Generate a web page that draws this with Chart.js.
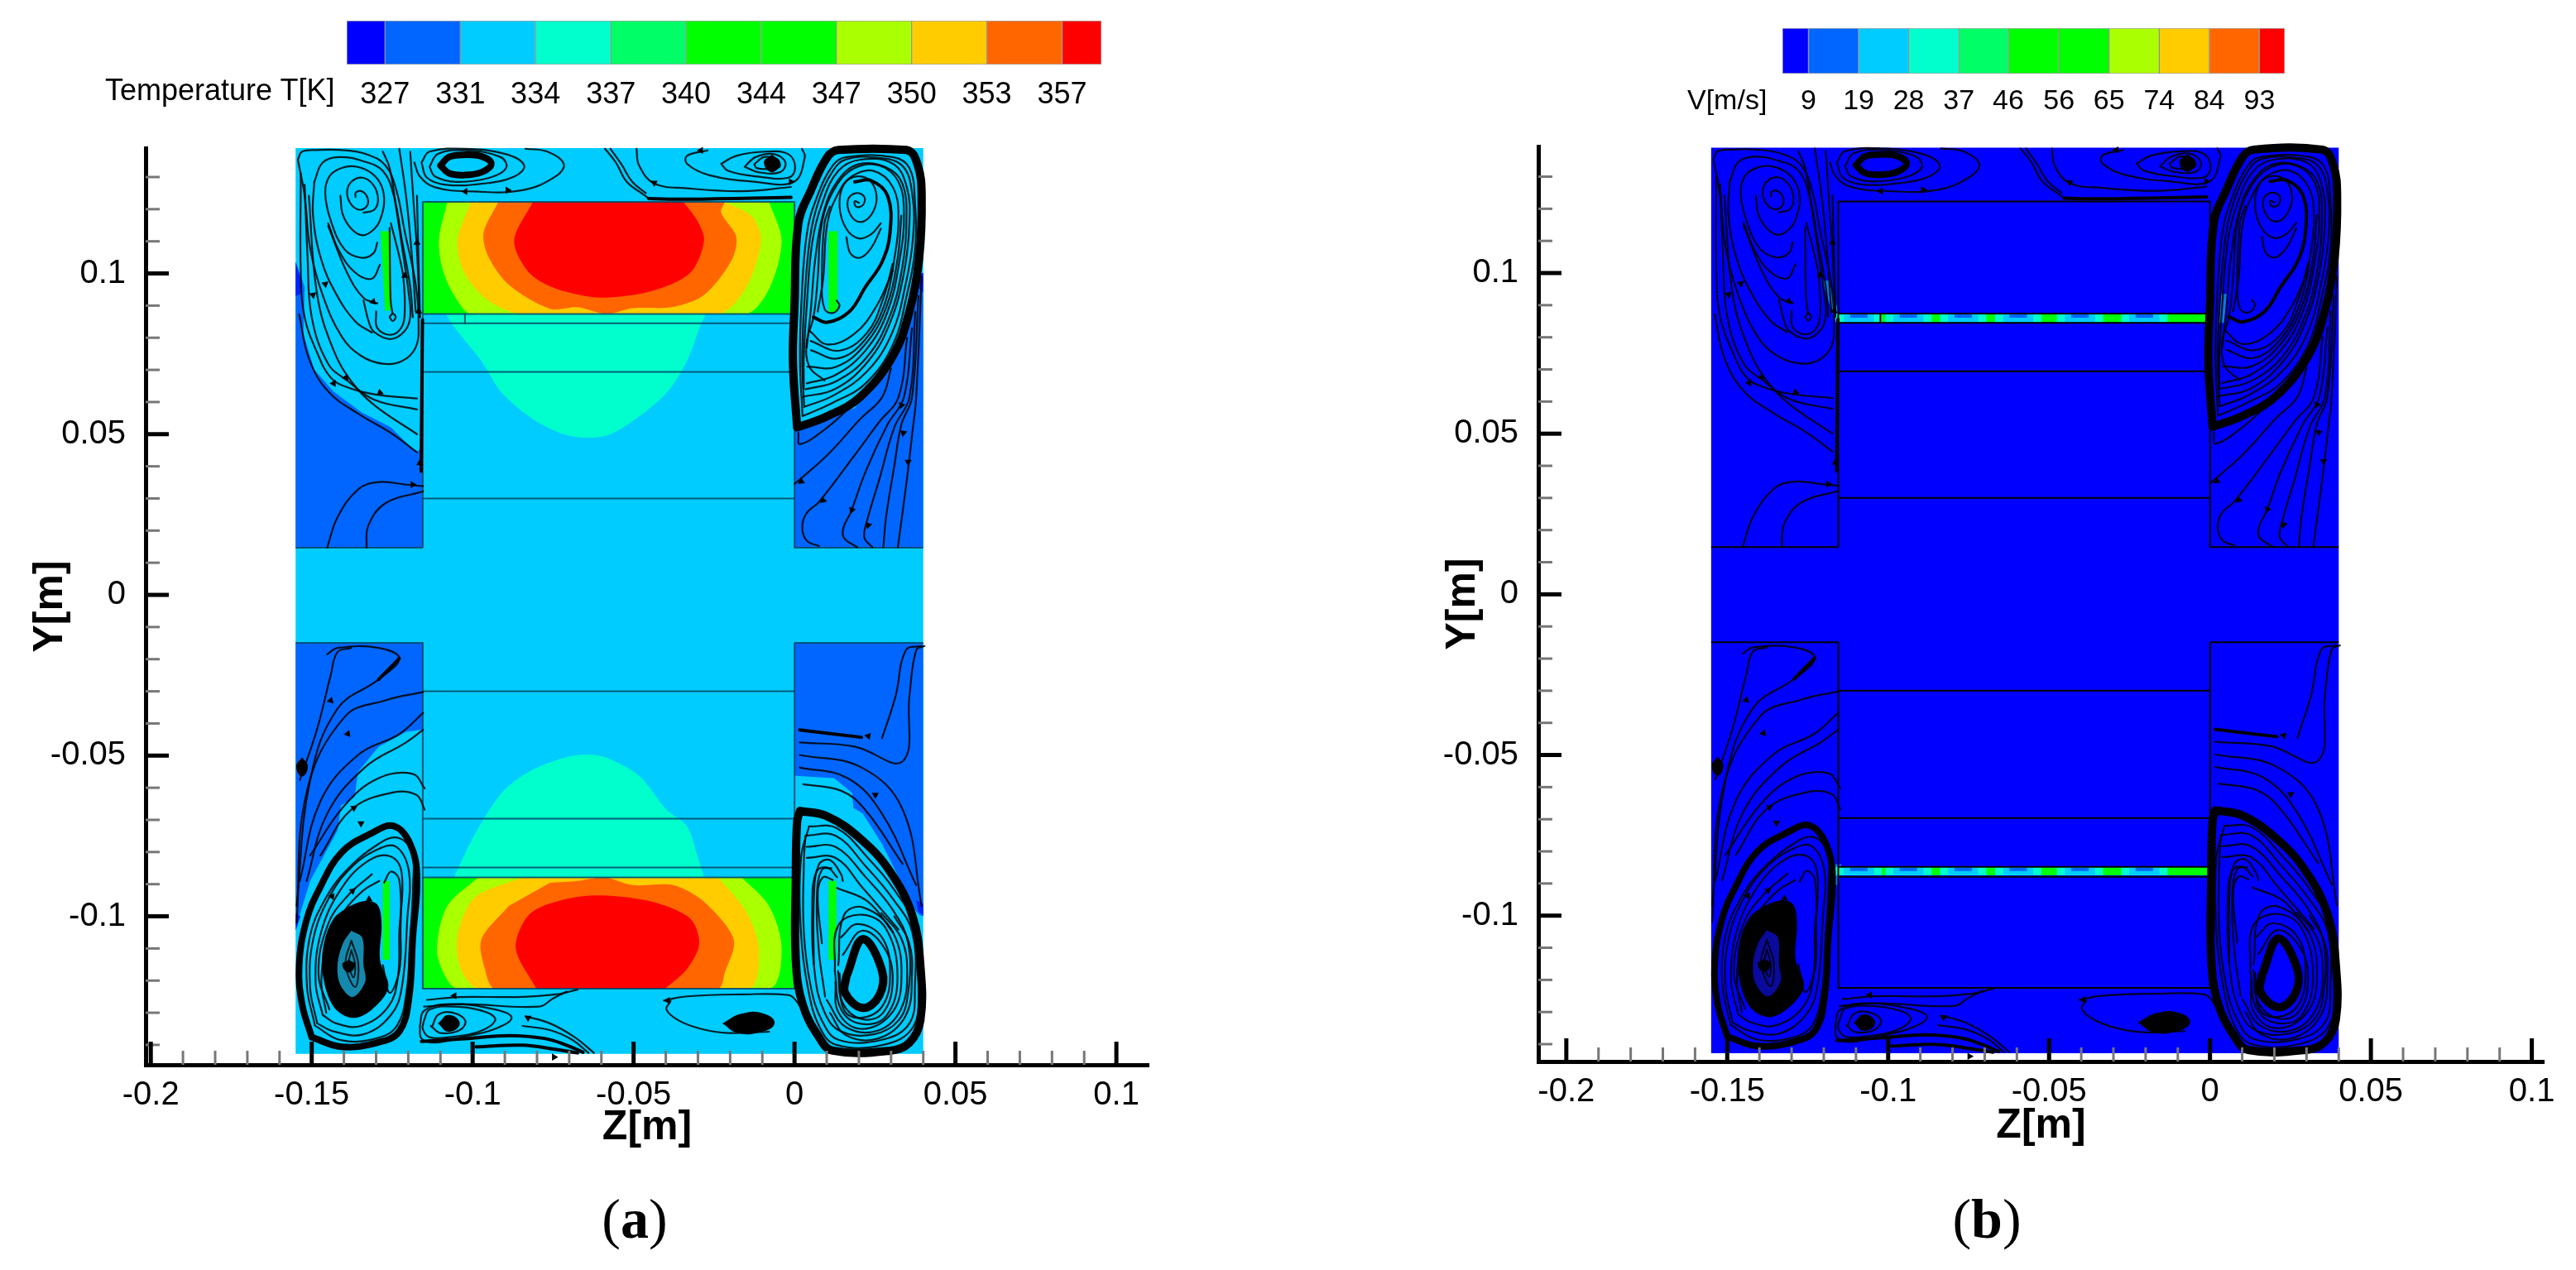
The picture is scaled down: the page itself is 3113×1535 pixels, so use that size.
<!DOCTYPE html>
<html>
<head>
<meta charset="utf-8">
<title>Temperature and velocity fields</title>
<script src="https://cdn.jsdelivr.net/npm/chart.js@4"></script>
<style>
  html, body { margin: 0; background: #fff; width: 3113px; height: 1535px; overflow: hidden; }
  canvas { position: absolute; display: block; }
  .cap { position: absolute; transform: translate(-50%, -50%); font: 68px "Liberation Serif", serif; color: #000; }
  .bar-name { position: absolute; transform: translateY(-50%); font-family: "Liberation Sans", sans-serif; color: #000; white-space: nowrap; }
</style>
</head>
<body>
<canvas id="barA" width="1012" height="140" style="left:369px;top:5px"></canvas>
<canvas id="barB" width="707" height="140" style="left:2104px;top:14px"></canvas>
<canvas id="plotA" width="1500" height="1300" style="left:0;top:100px"></canvas>
<canvas id="plotB" width="1430" height="1300" style="left:1683px;top:98px"></canvas>
<div class="bar-name" style="left:127px;top:109px;font-size:36px">Temperature T[K]</div>
<div class="bar-name" style="left:2039px;top:120px;font-size:34px">V[m/s]</div>
<div class="cap" style="left:767px;top:1473px">(<b>a</b>)</div>
<div class="cap" style="left:2401px;top:1473px">(<b>b</b>)</div>
<script>
// --- colour bars ---
const palette = ['#0000ff', '#0066ff', '#00ccff', '#00ffcc', '#00ff66', '#00ff00', '#00ff00', '#aaff00', '#ffcc00', '#ff6600', '#ff0000'];
const tempLevels = [327.4, 330.66, 333.91, 337.17, 340.42, 343.68, 346.93, 350.19, 353.44, 356.7];
const tempEnds = [325.74, 358.4];
const speedLevels = [9.3, 18.6, 27.9, 37.2, 46.4, 55.8, 65.1, 74.4, 83.7, 93.0];
const speedEnds = [4.46, 97.7];

// --- axis ticks ---
const zMajor = [-0.2, -0.15, -0.1, -0.05, 0, 0.05, 0.1];
const yMajor = [-0.1, -0.05, 0, 0.05, 0.1];
const zMinor = [-0.19, -0.18, -0.17, -0.16, -0.14, -0.13, -0.12, -0.11, -0.09, -0.08, -0.07, -0.06, -0.04, -0.03, -0.02, -0.01, 0.01, 0.02, 0.03, 0.04, 0.06, 0.07, 0.08, 0.09];
const yMinor = [-0.14, -0.13, -0.12, -0.11, -0.09, -0.08, -0.07, -0.06, -0.04, -0.03, -0.02, -0.01, 0.01, 0.02, 0.03, 0.04, 0.06, 0.07, 0.08, 0.09, 0.11, 0.12, 0.13];

// --- geometry (z, y in metres) ---
const domainRect = [[-0.155, 0.139], [0.04, 0.139], [0.04, -0.1428], [-0.155, -0.1428]];
const frameLines = [
  [[-0.1155, 0.0147], [-0.1155, 0.1223], [0, 0.1223], [0, 0.0147]],
  [[-0.155, 0.0147], [-0.1155, 0.0147]], [[0, 0.0147], [0.04, 0.0147]],
  [[-0.1155, -0.0149], [-0.1155, -0.1225], [0, -0.1225], [0, -0.0149]],
  [[-0.155, -0.0149], [-0.1155, -0.0149]], [[0, -0.0149], [0.04, -0.0149]],
  [[-0.1155, 0.0874], [0, 0.0874]], [[-0.1155, 0.0845], [0, 0.0845]], [[-0.1155, 0.0694], [0, 0.0694]], [[-0.1155, 0.03], [0, 0.03]],
  [[-0.1024, 0.0874], [-0.1024, 0.0845]],
  [[-0.1155, -0.03], [0, -0.03]], [[-0.1155, -0.0696], [0, -0.0696]], [[-0.1155, -0.0848], [0, -0.0848]], [[-0.1155, -0.0879], [0, -0.0879]]
];
const fins = [
  [[-0.1286, 0.1131], [-0.1256, 0.1131], [-0.1256, 0.0884], [-0.1272, 0.0884]],
  [[0.0106, 0.1131], [0.0134, 0.1131], [0.0134, 0.088], [0.0106, 0.088]],
  [[-0.1279, -0.089], [-0.1258, -0.089], [-0.1258, -0.1135], [-0.1279, -0.1135]],
  [[0.0106, -0.089], [0.013, -0.089], [0.013, -0.1135], [0.0106, -0.1135]]
];

// --- temperature contours ---
const coldZones = [
  [[-0.155, 0.0147], [-0.1155, 0.0147], [-0.1155, 0.0469], [-0.1172, 0.0444], [-0.1194, 0.0461], [-0.1254, 0.0521], [-0.1347, 0.0569], [-0.1433, 0.0633], [-0.1492, 0.0701], [-0.1526, 0.0813], [-0.1522, 0.0959], [-0.155, 0.1036]],
  [[0, 0.0147], [0.04, 0.0147], [0.04, 0.1001], [0.0391, 0.1001], [0.0357, 0.0899], [0.0306, 0.0744], [0.0255, 0.0658], [0.0187, 0.0581], [0.0102, 0.0556], [0, 0.0512]],
  [[-0.155, -0.0149], [-0.1155, -0.0149], [-0.1155, -0.0419], [-0.1207, -0.0426], [-0.1292, -0.0472], [-0.1356, -0.055], [-0.1367, -0.0629], [-0.1409, -0.0655], [-0.142, -0.0733], [-0.1505, -0.089], [-0.1547, -0.1027], [-0.155, -0.1027]],
  [[0, -0.0149], [0.04, -0.0149], [0.04, -0.0998], [0.0391, -0.0998], [0.0374, -0.0981], [0.0332, -0.0895], [0.0272, -0.0775], [0.0212, -0.068], [0.0183, -0.0663], [0.0179, -0.0616], [0.0123, -0.057], [0.0006, -0.0563], [0, -0.0563]]
];
const coldestSpots = [
  [[-0.155, 0.1036], [-0.1535, 0.0985], [-0.1535, 0.0936], [-0.155, 0.093]],
  [[0.04, 0.1001], [0.039, 0.1001], [0.038, 0.096], [0.04, 0.094]],
  [[-0.155, -0.099], [-0.1535, -0.1], [-0.155, -0.1045]],
  [[0.04, -0.0998], [0.0385, -0.0985], [0.0378, -0.095], [0.04, -0.096]]
];
const tealZones = [
  [[-0.1083, 0.0874], [-0.1058, 0.0834], [-0.0973, 0.0728], [-0.0909, 0.0628], [-0.0802, 0.054], [-0.0696, 0.0494], [-0.059, 0.0494], [-0.0504, 0.054], [-0.0398, 0.0628], [-0.0334, 0.0728], [-0.0292, 0.084], [-0.0275, 0.0874]],
  [[-0.1058, -0.0879], [-0.0994, -0.0746], [-0.0909, -0.0615], [-0.0824, -0.055], [-0.0696, -0.0502], [-0.06, -0.0502], [-0.0483, -0.0563], [-0.0398, -0.0668], [-0.0334, -0.072], [-0.0302, -0.0811], [-0.0281, -0.0879]]
];
const blockRects = [
  [[-0.1155, 0.1223], [0, 0.1223], [0, 0.0874], [-0.1155, 0.0874]],
  [[-0.1155, -0.0879], [0, -0.0879], [0, -0.1225], [-0.1155, -0.1225]]
];
const blockTrims = [
  [[-0.1155, 0.1223], [0, 0.1223], [0, 0.126], [-0.1155, 0.126]],
  [[-0.1155, 0.0874], [0, 0.0874], [0, 0.084], [-0.1155, 0.084]],
  [[-0.1155, -0.0879], [0, -0.0879], [0, -0.0845], [-0.1155, -0.0845]],
  [[-0.1155, -0.1225], [0, -0.1225], [0, -0.126], [-0.1155, -0.126]]
];
const limeZones = [
  [[-0.1079, 0.1223], [-0.1105, 0.1102], [-0.109, 0.1002], [-0.1047, 0.0915], [-0.1005, 0.0874], [-0.0153, 0.0874], [-0.0079, 0.0952], [-0.004, 0.1102], [-0.0079, 0.1223]],
  [[-0.0983, -0.0879], [-0.1079, -0.0968], [-0.1111, -0.1099], [-0.109, -0.1177], [-0.1047, -0.1225], [-0.0079, -0.1225], [-0.004, -0.1099], [-0.0079, -0.0968], [-0.0164, -0.0879]]
];
const yellowZones = [
  [[-0.1005, 0.1223], [-0.1047, 0.1102], [-0.1026, 0.1002], [-0.0951, 0.0915], [-0.0845, 0.0874], [-0.0238, 0.0874], [-0.0153, 0.0952], [-0.0104, 0.1102], [-0.0132, 0.1177], [-0.0217, 0.1223]],
  [[-0.0845, -0.0879], [-0.0994, -0.0942], [-0.1047, -0.106], [-0.1037, -0.1164], [-0.098, -0.1225], [-0.0143, -0.1225], [-0.0111, -0.1099], [-0.0153, -0.0981], [-0.0238, -0.0879]]
];
const orangeZones = [
  [[-0.092, 0.1223], [-0.0966, 0.1127], [-0.0951, 0.1052], [-0.0888, 0.0965], [-0.076, 0.089], [-0.0675, 0.0895], [-0.0583, 0.0874], [-0.0504, 0.0892], [-0.0377, 0.0896], [-0.0281, 0.0933], [-0.0196, 0.104], [-0.0181, 0.1114], [-0.0228, 0.1189], [-0.0217, 0.1223]],
  [[-0.076, -0.0896], [-0.0675, -0.089], [-0.059, -0.0879], [-0.0504, -0.0903], [-0.0377, -0.0903], [-0.0281, -0.0955], [-0.0189, -0.1072], [-0.0217, -0.1177], [-0.0238, -0.1225], [-0.093, -0.1225], [-0.0962, -0.1164], [-0.0973, -0.1072], [-0.0888, -0.0968]]
];
const redZones = [
  [[-0.0813, 0.1223], [-0.0871, 0.1102], [-0.0824, 0.1002], [-0.0739, 0.0952], [-0.06, 0.0925], [-0.0441, 0.0946], [-0.0324, 0.1002], [-0.0281, 0.1102], [-0.0302, 0.1164], [-0.0345, 0.1223]],
  [[-0.0802, -0.1225], [-0.0866, -0.1099], [-0.0824, -0.0994], [-0.0717, -0.0948], [-0.06, -0.0935], [-0.0441, -0.0955], [-0.0324, -0.1007], [-0.0296, -0.1085], [-0.0334, -0.1164], [-0.0402, -0.1225]]
];

// --- velocity jet bands ---
const bandMids = [0.086, -0.0862];
const bandBlueRows = [0.0866, -0.0856];
const bandTeal = [[-0.1163, -0.1019], [-0.1009, -0.0865], [-0.0839, -0.0695], [-0.0668, -0.0524], [-0.0476, -0.0332], [-0.0276, -0.0132]];
const bandCyan = [[-0.1138, -0.1044], [-0.0984, -0.089], [-0.0814, -0.072], [-0.0643, -0.0549], [-0.0451, -0.0357], [-0.0251, -0.0157]];
const bandBlue = [[-0.1118, -0.1064], [-0.0964, -0.091], [-0.0794, -0.074], [-0.0623, -0.0569], [-0.0431, -0.0377], [-0.0231, -0.0177]];
const speedStreaks = [
  [[-0.1207, 0.0977], [-0.1185, 0.0977], [-0.1145, 0.0852], [-0.1165, 0.0852]],
  [[0.0035, 0.0935], [0.0055, 0.0935], [0.0045, 0.0845], [0.0025, 0.0845]],
  [[-0.1165, -0.084], [-0.1145, -0.084], [-0.1155, -0.0905], [-0.1175, -0.0905]]
];

// --- streamlines: thin, left side and centre ---
const thinLines = [
  // top left vortex
  [[-0.1364, 0.1238], [-0.1363, 0.1252], [-0.1343, 0.1255], [-0.1326, 0.1233], [-0.133, 0.1208], [-0.1356, 0.1199], [-0.1381, 0.122], [-0.139, 0.1255], [-0.1377, 0.1285], [-0.1343, 0.1298], [-0.1309, 0.1276], [-0.1294, 0.1233], [-0.1305, 0.1199], [-0.1339, 0.1189]],
  [[-0.1411, 0.1242], [-0.1403, 0.1182], [-0.1373, 0.1135], [-0.1339, 0.1119], [-0.1305, 0.1139], [-0.1288, 0.1165], [-0.1275, 0.122], [-0.1283, 0.1272], [-0.1313, 0.1311], [-0.136, 0.1332], [-0.1407, 0.1328], [-0.1445, 0.1302], [-0.1458, 0.125], [-0.1441, 0.1165], [-0.1398, 0.1075], [-0.1347, 0.1049], [-0.1309, 0.1062], [-0.1296, 0.1096]],
  [[-0.1449, 0.1156], [-0.1415, 0.107], [-0.1364, 0.1002], [-0.1313, 0.0984], [-0.1288, 0.1027]],
  [[-0.1449, 0.1148], [-0.139, 0.1002], [-0.1339, 0.0924], [-0.1296, 0.0907]],
  [[-0.1339, 0.0916], [-0.1322, 0.0847], [-0.1305, 0.0817], [-0.1254, 0.0796], [-0.1211, 0.0821], [-0.1194, 0.0864], [-0.1198, 0.0933], [-0.1215, 0.1053], [-0.1237, 0.1199], [-0.1258, 0.1328], [-0.1279, 0.1379]],
  [[-0.13, 0.0882], [-0.1296, 0.083], [-0.1254, 0.0809], [-0.122, 0.0834], [-0.1211, 0.0882], [-0.1215, 0.0984], [-0.1228, 0.1053], [-0.1254, 0.1156]],
  [[-0.1258, 0.0864], [-0.1249, 0.0875], [-0.1239, 0.0864], [-0.1249, 0.0852], [-0.1258, 0.0864]],
  [[-0.1258, 0.1142], [-0.1255, 0.0919], [-0.1249, 0.0875]],
  [[-0.1543, 0.1354], [-0.153, 0.1379], [-0.1483, 0.1384], [-0.1407, 0.1384], [-0.133, 0.1371], [-0.1271, 0.1336], [-0.1237, 0.1259], [-0.1211, 0.113], [-0.1177, 0.0967], [-0.1168, 0.0847], [-0.1177, 0.077], [-0.122, 0.0727], [-0.1279, 0.0719], [-0.1347, 0.0744], [-0.1407, 0.0804], [-0.1466, 0.0933], [-0.1505, 0.1079], [-0.1522, 0.1242], [-0.1543, 0.1354]],
  [[-0.1492, 0.1285], [-0.1466, 0.1345], [-0.1415, 0.1362], [-0.1339, 0.1349], [-0.1279, 0.1319], [-0.1245, 0.1242], [-0.122, 0.1105], [-0.1194, 0.0959], [-0.1186, 0.0864]],
  [[-0.1492, 0.1285], [-0.1496, 0.1182], [-0.1471, 0.1045], [-0.1424, 0.0936], [-0.1364, 0.085], [-0.1313, 0.0816]],
  [[-0.1534, 0.1311], [-0.1534, 0.1002], [-0.1522, 0.0864], [-0.1483, 0.0753], [-0.1441, 0.0676], [-0.139, 0.0646], [-0.1305, 0.0624], [-0.1173, 0.0611]],
  [[-0.1522, 0.1276], [-0.1513, 0.1053], [-0.15, 0.0864], [-0.1449, 0.0719], [-0.139, 0.0667], [-0.1305, 0.0607], [-0.1173, 0.0577]],
  [[-0.1509, 0.1242], [-0.1483, 0.0933], [-0.1432, 0.0761], [-0.1373, 0.0659], [-0.1305, 0.059], [-0.1173, 0.05]],
  [[-0.1539, 0.0873], [-0.1509, 0.0736], [-0.1449, 0.0633], [-0.1356, 0.0564], [-0.1254, 0.0504], [-0.1173, 0.0444]],
  [[-0.1173, 0.1242], [-0.1164, 0.0864]],
  [[-0.1194, 0.1379], [-0.1185, 0.1242], [-0.1173, 0.107], [-0.1164, 0.0864]],
  [[-0.1228, 0.1388], [-0.1207, 0.1242], [-0.119, 0.107], [-0.1177, 0.0882]],
  // chamber under the top left vortex
  [[-0.1452, 0.0147], [-0.142, 0.0241], [-0.1356, 0.0328], [-0.1292, 0.0351], [-0.1207, 0.0343], [-0.1154, 0.0338]],
  [[-0.133, 0.0147], [-0.1324, 0.0216], [-0.1271, 0.0285], [-0.1154, 0.0322]],
  // top centre
  [[-0.1134, 0.1332], [-0.1108, 0.1372], [-0.1023, 0.1383], [-0.0913, 0.1362], [-0.0896, 0.1328], [-0.0947, 0.1298], [-0.1049, 0.1285], [-0.1117, 0.1302], [-0.1134, 0.1332]],
  [[-0.1159, 0.1345], [-0.1134, 0.1379], [-0.1023, 0.1388], [-0.0896, 0.1371], [-0.084, 0.1336], [-0.087, 0.1302], [-0.0964, 0.128], [-0.1083, 0.1276], [-0.1142, 0.1298], [-0.1159, 0.1345]],
  [[-0.0836, 0.1388], [-0.0768, 0.1379], [-0.0717, 0.1341], [-0.0742, 0.1302], [-0.0845, 0.1259], [-0.0998, 0.1255], [-0.1117, 0.1268], [-0.1164, 0.1302], [-0.1181, 0.1345]],
  [[-0.0589, 0.1388], [-0.0555, 0.1345], [-0.0521, 0.1285], [-0.047, 0.1246], [-0.0453, 0.1233]],
  [[-0.0572, 0.1388], [-0.0538, 0.134], [-0.0504, 0.1285], [-0.0462, 0.125]],
  [[-0.0491, 0.1388], [-0.0483, 0.1336], [-0.0436, 0.128], [-0.0334, 0.1265], [-0.0164, 0.1256], [-0.0011, 0.1269]],
  [[-0.027, 0.1383], [-0.0334, 0.1366], [-0.0334, 0.1341], [-0.0266, 0.1306], [-0.0121, 0.1285], [-0.0002, 0.1285], [0.0032, 0.1362], [0.0023, 0.1388]],
  [[-0.0228, 0.1341], [-0.0181, 0.1366], [-0.0087, 0.1379], [-0.0019, 0.1371], [0.0002, 0.1328], [-0.0019, 0.1298], [-0.0121, 0.1302], [-0.0206, 0.1319], [-0.0228, 0.1341]],
  [[-0.0155, 0.1332], [-0.0121, 0.1362], [-0.0062, 0.1371], [-0.0028, 0.1345], [-0.0045, 0.1315], [-0.0113, 0.1315], [-0.0155, 0.1332]],
  [[-0.0125, 0.134], [-0.0095, 0.1362], [-0.0055, 0.1355], [-0.0046, 0.1332], [-0.008, 0.1325], [-0.0118, 0.1328], [-0.0125, 0.134]],
  // bottom centre
  [[-0.1125, -0.1341], [-0.1108, -0.1307], [-0.1066, -0.1299], [-0.1023, -0.1324], [-0.104, -0.1354], [-0.11, -0.1363], [-0.113, -0.1341]],
  [[-0.1151, -0.1324], [-0.1134, -0.129], [-0.1057, -0.1281], [-0.0955, -0.1299], [-0.093, -0.1324], [-0.0981, -0.1359], [-0.1074, -0.1376], [-0.1134, -0.1376], [-0.1155, -0.135], [-0.1151, -0.1324]],
  [[-0.1164, -0.1341], [-0.1151, -0.1294], [-0.1074, -0.1273], [-0.093, -0.129], [-0.0879, -0.1316], [-0.093, -0.135], [-0.1032, -0.1376], [-0.1117, -0.1393], [-0.1159, -0.138], [-0.1164, -0.1341]],
  [[-0.1142, -0.126], [-0.104, -0.1251], [-0.0862, -0.1251], [-0.0742, -0.1243], [-0.0674, -0.1228]],
  [[-0.1151, -0.1281], [-0.1032, -0.1273], [-0.0794, -0.1281], [-0.0751, -0.1256], [-0.0708, -0.1234]],
  [[-0.0836, -0.1311], [-0.076, -0.1333], [-0.0683, -0.1376], [-0.0623, -0.1425]],
  [[-0.0845, -0.1341], [-0.076, -0.1354], [-0.0691, -0.1384], [-0.064, -0.1425]],
  [[-0.0406, -0.1262], [-0.0334, -0.1249], [-0.0164, -0.1243], [-0.0019, -0.1245], [0.0006, -0.1264], [0.0025, -0.1295]],
  [[-0.0385, -0.1264], [-0.0398, -0.129], [-0.036, -0.1324], [-0.0291, -0.135], [-0.0206, -0.1363], [-0.0079, -0.1359]],
  // lower left vortex
  [[-0.1483, -0.1333], [-0.1505, -0.1221], [-0.1496, -0.1075], [-0.1449, -0.0947], [-0.1381, -0.0852], [-0.1296, -0.0792], [-0.1237, -0.0784], [-0.1198, -0.0861], [-0.1203, -0.1007], [-0.122, -0.1221], [-0.1254, -0.1307], [-0.1339, -0.1367], [-0.1432, -0.1358], [-0.1483, -0.1333]],
  [[-0.1466, -0.1307], [-0.1488, -0.1204], [-0.1471, -0.105], [-0.1407, -0.0912], [-0.1322, -0.0826], [-0.1254, -0.0814], [-0.122, -0.0869], [-0.1228, -0.105], [-0.1232, -0.1187], [-0.1262, -0.1281], [-0.1347, -0.1341], [-0.1424, -0.1333], [-0.1466, -0.1307]],
  [[-0.149, -0.134], [-0.1515, -0.1215], [-0.1505, -0.106], [-0.146, -0.095], [-0.1395, -0.086], [-0.13, -0.078], [-0.1235, -0.0755], [-0.119, -0.08], [-0.1185, -0.09], [-0.1195, -0.108], [-0.1205, -0.123], [-0.1235, -0.134], [-0.13, -0.138], [-0.141, -0.1385], [-0.149, -0.134]],
  [[-0.1455, -0.13], [-0.147, -0.12], [-0.145, -0.108], [-0.14, -0.0985], [-0.134, -0.092], [-0.129, -0.089]],
  [[-0.1275, -0.0895], [-0.1254, -0.0861], [-0.1228, -0.0887], [-0.1224, -0.105], [-0.1228, -0.117], [-0.1258, -0.1238], [-0.1279, -0.1152]],
  [[-0.1445, -0.129], [-0.1479, -0.1178], [-0.1449, -0.1024], [-0.139, -0.0938], [-0.1313, -0.0869]],
  // chamber above the lower left vortex
  [[-0.1505, -0.0811], [-0.1398, -0.0655], [-0.1292, -0.057], [-0.1186, -0.0557], [-0.1149, -0.0602]],
  [[-0.1473, -0.0811], [-0.1377, -0.0668], [-0.1249, -0.0615], [-0.1175, -0.0622], [-0.1149, -0.0668]],
  [[-0.1537, -0.089], [-0.1473, -0.0642], [-0.1356, -0.0498], [-0.1228, -0.0433], [-0.1154, -0.0367]],
  [[-0.1516, -0.089], [-0.1452, -0.0681], [-0.1335, -0.0537], [-0.1207, -0.0459], [-0.1154, -0.042]],
  [[-0.1547, -0.0968], [-0.1505, -0.0576], [-0.142, -0.0354], [-0.1292, -0.0263], [-0.1228, -0.0198], [-0.1292, -0.0165], [-0.142, -0.0165], [-0.1452, -0.0185]],
  [[-0.1537, -0.0576], [-0.1484, -0.042], [-0.1441, -0.025], [-0.142, -0.0178], [-0.1377, -0.0165]],
  [[-0.1547, -0.102], [-0.1516, -0.0615], [-0.1398, -0.038], [-0.1271, -0.0328], [-0.1154, -0.0302]]
];

// --- streamlines: thin, right side (read against the crop, shifted by rightShift) ---
const rightShift = 0.001;
const thinLinesRight = [
  // chamber under the top right vortex
  [[0.0002, 0.0504], [0.0007, 0.0469], [0.0092, 0.0521], [0.0194, 0.0615]],
  [[-0.001, 0.0345], [0.0092, 0.0435], [0.0194, 0.0547], [0.0262, 0.0615], [0.029, 0.0705]],
  [[0.0066, 0.0152], [0.0028, 0.0169], [0.0014, 0.0212], [0.0028, 0.0255], [0.0066, 0.0289], [0.0177, 0.0435], [0.0253, 0.0538], [0.0313, 0.0615], [0.034, 0.08]],
  [[0.0185, 0.0148], [0.0143, 0.0178], [0.0143, 0.0212], [0.0164, 0.0255], [0.0211, 0.0384], [0.0279, 0.053], [0.033, 0.0615], [0.0355, 0.083]],
  [[0.0232, 0.0148], [0.0207, 0.0178], [0.0215, 0.0229], [0.0253, 0.0358], [0.03, 0.0521], [0.0347, 0.0615], [0.0365, 0.088]],
  [[0.0266, 0.0148], [0.0275, 0.0246], [0.03, 0.0401], [0.0322, 0.053], [0.0355, 0.0615], [0.0375, 0.093]],
  [[0.0311, 0.0148], [0.0339, 0.0358], [0.0356, 0.0504], [0.0368, 0.0615], [0.0385, 0.099]],
  // top right vortex, inner turns
  [[0.0015, 0.0556], [0.0109, 0.0598], [0.0211, 0.0658], [0.0296, 0.0779], [0.0339, 0.0933], [0.0364, 0.107], [0.0364, 0.1225], [0.0347, 0.1328], [0.0296, 0.1362], [0.0151, 0.1362], [0.0109, 0.1336], [0.0058, 0.1233], [0.0028, 0.1122], [0.0011, 0.0899], [0.0007, 0.0727], [0.0015, 0.0556]],
  [[0.002, 0.0585], [0.011, 0.062], [0.0215, 0.0695], [0.0292, 0.0812], [0.0335, 0.0965], [0.0358, 0.111], [0.0356, 0.1245], [0.0325, 0.1335], [0.0245, 0.136], [0.015, 0.1355], [0.011, 0.132], [0.0065, 0.1225], [0.0038, 0.111], [0.002, 0.09], [0.0014, 0.073], [0.002, 0.0585]],
  [[0.0015, 0.0616], [0.0117, 0.0641], [0.0219, 0.0727], [0.0287, 0.0847], [0.033, 0.1002], [0.0347, 0.1156], [0.0339, 0.1268], [0.0296, 0.1341], [0.0194, 0.1354], [0.0126, 0.1319], [0.0075, 0.1216], [0.0045, 0.1096], [0.0028, 0.0899], [0.0019, 0.0744], [0.0019, 0.0641]],
  [[0.0025, 0.064], [0.012, 0.0665], [0.0215, 0.074], [0.0285, 0.0865], [0.0325, 0.102], [0.0338, 0.117], [0.0325, 0.128], [0.0275, 0.133], [0.019, 0.134], [0.0125, 0.129], [0.008, 0.119], [0.0055, 0.105], [0.004, 0.088], [0.0028, 0.077]],
  [[0.0028, 0.0658], [0.0117, 0.0684], [0.0211, 0.0761], [0.0279, 0.0881], [0.0317, 0.1045], [0.033, 0.1182], [0.0313, 0.1285], [0.0253, 0.1336], [0.0177, 0.1328], [0.0117, 0.1268], [0.0075, 0.1156], [0.0062, 0.0984], [0.0049, 0.0864], [0.0028, 0.0787], [0.0036, 0.071], [0.0083, 0.0667]],
  [[0.003, 0.071], [0.012, 0.071], [0.021, 0.078], [0.0275, 0.0895], [0.031, 0.1045], [0.0322, 0.118]],
  [[0.0041, 0.0761], [0.0126, 0.0736], [0.0211, 0.0796], [0.0271, 0.0908], [0.03, 0.1045], [0.0313, 0.1173], [0.0296, 0.1268], [0.0236, 0.1319], [0.0168, 0.1302], [0.0126, 0.125], [0.0092, 0.1156], [0.0079, 0.0984], [0.0062, 0.0881]],
  [[0.004, 0.079], [0.013, 0.076], [0.0215, 0.0815], [0.0265, 0.092], [0.0295, 0.103]],
  [[0.0036, 0.0822], [0.0092, 0.0779], [0.0177, 0.0813], [0.0245, 0.0899], [0.0296, 0.101]],
  [[0.019, 0.122], [0.0177, 0.1225], [0.0181, 0.1208], [0.0202, 0.1212], [0.0207, 0.1238], [0.0181, 0.125], [0.0156, 0.1229], [0.0164, 0.1182], [0.0194, 0.116], [0.0228, 0.1182], [0.0245, 0.1233], [0.0228, 0.1285], [0.0185, 0.1302], [0.0143, 0.1276], [0.013, 0.1208], [0.0151, 0.1139], [0.019, 0.1109], [0.0228, 0.1122], [0.0258, 0.1156]],
  [[0.0151, 0.1113], [0.0164, 0.1062], [0.0194, 0.1049], [0.0228, 0.1079], [0.0258, 0.1139]],
  [[0.0121, 0.0916], [0.013, 0.0899], [0.0109, 0.0877], [0.0083, 0.089], [0.0075, 0.0984], [0.0083, 0.1156], [0.01, 0.1208]],
  // lower right vortex
  [[0.0126, -0.1152], [0.0143, -0.0998], [0.0202, -0.0972], [0.0296, -0.105], [0.0322, -0.1204], [0.0287, -0.1307], [0.0194, -0.135], [0.0126, -0.1298], [0.0117, -0.1204]],
  [[0.0115, -0.117], [0.0125, -0.103], [0.02, -0.0995], [0.0275, -0.104], [0.031, -0.119], [0.0275, -0.131], [0.02, -0.1335], [0.0135, -0.129], [0.0115, -0.117]],
  [[0.0134, -0.1066], [0.0185, -0.1024], [0.0262, -0.1066], [0.0287, -0.1178], [0.0262, -0.1281], [0.0194, -0.1316], [0.0143, -0.129], [0.013, -0.1178]],
  [[0.014, -0.112], [0.02, -0.1045], [0.027, -0.11], [0.0295, -0.12], [0.0265, -0.13], [0.02, -0.132], [0.014, -0.127], [0.0125, -0.117]],
  [[0.01, -0.13], [0.015, -0.137], [0.025, -0.138], [0.0335, -0.131], [0.0355, -0.118], [0.0345, -0.108], [0.03, -0.1]],
  [[0.009, -0.126], [0.015, -0.1345], [0.025, -0.1355], [0.032, -0.129], [0.034, -0.117], [0.032, -0.1065], [0.026, -0.099]],
  [[0.0035, -0.072], [0.012, -0.0725], [0.0215, -0.0815], [0.0305, -0.0925], [0.0368, -0.104], [0.0376, -0.1215], [0.0358, -0.1345], [0.0265, -0.14], [0.012, -0.14], [0.0068, -0.1345], [0.0032, -0.1225], [0.001, -0.105], [0.001, -0.082], [0.0035, -0.072]],
  [[0.0024, -0.0749], [0.0117, -0.0749], [0.0211, -0.0844], [0.0296, -0.0946], [0.0356, -0.105], [0.0364, -0.1221], [0.0347, -0.1333], [0.0262, -0.1384], [0.0126, -0.1384], [0.0075, -0.1324], [0.0041, -0.1221], [0.0019, -0.105], [0.0019, -0.0835], [0.0024, -0.0749]],
  [[0.0028, -0.0784], [0.0117, -0.0784], [0.0211, -0.0878], [0.0296, -0.0981], [0.0343, -0.1084], [0.0343, -0.1238], [0.0313, -0.1324], [0.0236, -0.1367], [0.0134, -0.1358], [0.0083, -0.1298], [0.0053, -0.1178], [0.0045, -0.0964], [0.0058, -0.0861], [0.0092, -0.0848], [0.0122, -0.0878]],
  [[0.0028, -0.0818], [0.0117, -0.0818], [0.0202, -0.0912], [0.0262, -0.0981], [0.0313, -0.1041]],
  [[0.005, -0.115], [0.005, -0.095], [0.0065, -0.084], [0.01, -0.0825], [0.0135, -0.087], [0.014, -0.089]],
  [[0.0085, -0.125], [0.0065, -0.11], [0.006, -0.093], [0.0075, -0.0855], [0.0105, -0.085]],
  [[0.0075, -0.1084], [0.0062, -0.0929], [0.0079, -0.0878], [0.0109, -0.0887]],
  [[0.0122, -0.0912], [0.0219, -0.0955], [0.0296, -0.105]],
  // chamber above the lower right vortex
  [[0.0006, -0.0459], [0.0177, -0.0472], [0.0326, -0.0518], [0.0347, -0.0315], [0.0368, -0.0172], [0.0394, -0.0159]],
  [[0.0262, -0.0446], [0.0304, -0.0315], [0.0336, -0.0172], [0.0385, -0.0159]],
  [[0.0006, -0.0498], [0.0198, -0.0537], [0.0326, -0.0668], [0.0385, -0.0968]],
  [[0.0006, -0.0537], [0.0155, -0.057], [0.0262, -0.0681], [0.0368, -0.0903]],
  [[0.0017, -0.0589], [0.0134, -0.0609], [0.0209, -0.0668], [0.0326, -0.0837]]
];

// --- streamlines: bold ---
const boldLines = [
  [[-0.1156, 0.0856], [-0.116, 0.0384]],
  [[-0.1159, -0.1389], [-0.1015, -0.138], [-0.0887, -0.1371], [-0.0777, -0.138], [-0.0708, -0.1401], [-0.0657, -0.1423]],
  [[-0.0989, -0.1406], [-0.0845, -0.1401], [-0.0743, -0.1414], [-0.0674, -0.1425]],
  [[-0.0453, 0.1233], [-0.0334, 0.1231], [-0.0011, 0.1237]],
  [[-0.1292, -0.0263], [-0.1228, -0.0198]],
  [[0.0059, 0.0864], [0.0102, 0.0848], [0.017, 0.0881], [0.0221, 0.0959], [0.0272, 0.1036], [0.0297, 0.113], [0.0289, 0.1242], [0.0238, 0.1289], [0.0187, 0.1285]],
  [[0.0016, -0.042], [0.0208, -0.0443]]
];

// --- streamlines: heavy outer turns ---
const topRightOuter = [[0.0008, 0.0521], [0.0102, 0.0556], [0.0204, 0.0616], [0.0306, 0.0744], [0.0357, 0.0882], [0.0387, 0.1045], [0.0395, 0.1242], [0.0383, 0.1336], [0.0349, 0.1384], [0.0136, 0.1384], [0.0102, 0.1362], [0.0051, 0.1259], [0.0012, 0.1156], [0, 0.0899], [-0.0005, 0.0727], [0.0008, 0.0521]];
const lowerRightOuter = [[0.0017, -0.0672], [0.0102, -0.0689], [0.0204, -0.0758], [0.0297, -0.0861], [0.0366, -0.0998], [0.0391, -0.1153], [0.0391, -0.1324], [0.0357, -0.1393], [0.0297, -0.1418], [0.0119, -0.1418], [0.0076, -0.1376], [0.0025, -0.1273], [0.0004, -0.1135], [0.0004, -0.0878], [0.0008, -0.0706], [0.0017, -0.0672]];
const lowerRightCore = [[0.0161, -0.1187], [0.0212, -0.1071], [0.0272, -0.117], [0.0263, -0.1247], [0.0212, -0.1285], [0.0157, -0.1238], [0.0161, -0.1187]];
const lowerLeftOuter = [[-0.15, -0.1376], [-0.153, -0.1273], [-0.1539, -0.1152], [-0.1517, -0.1015], [-0.1475, -0.0912], [-0.1407, -0.0801], [-0.1313, -0.0741], [-0.1245, -0.0719], [-0.1194, -0.0775], [-0.1173, -0.0878], [-0.1186, -0.1067], [-0.1198, -0.1255], [-0.1228, -0.1358], [-0.1296, -0.1393], [-0.1407, -0.1406], [-0.15, -0.1376]];
const topCentreCore = [[-0.11, 0.1336], [-0.1074, 0.1362], [-0.1028, 0.1369], [-0.0972, 0.1364], [-0.0942, 0.1341], [-0.0972, 0.1315], [-0.1028, 0.1306], [-0.1074, 0.1312], [-0.11, 0.1336]];

// --- dense cores, drawn solid ---
const lowerLeftBlob = [[-0.139, -0.0972], [-0.1339, -0.0953], [-0.1296, -0.0964], [-0.1283, -0.1024], [-0.1288, -0.1135], [-0.1262, -0.1221], [-0.1313, -0.129], [-0.1373, -0.1316], [-0.1432, -0.1281], [-0.1466, -0.1178], [-0.1462, -0.1084], [-0.1432, -0.1007], [-0.139, -0.0972]];
const lowerLeftEye = [[-0.1377, -0.1045], [-0.1343, -0.1067], [-0.1339, -0.1152], [-0.1334, -0.1204], [-0.1373, -0.1251], [-0.1411, -0.1213], [-0.142, -0.1152], [-0.1403, -0.1084], [-0.1377, -0.1045]];
const eyeRings = [
  [[-0.1377, -0.1075], [-0.1355, -0.115], [-0.1365, -0.122], [-0.1395, -0.115], [-0.1377, -0.1075]],
  [[-0.1377, -0.1105], [-0.1365, -0.115], [-0.137, -0.119], [-0.1385, -0.115], [-0.1377, -0.1105]]
];
const solidDots = [
  [[-0.1108, -0.1333], [-0.1074, -0.1307], [-0.104, -0.1333], [-0.1074, -0.1359], [-0.1108, -0.1333]],
  [[-0.0224, -0.1333], [-0.0165, -0.1303], [-0.0095, -0.1303], [-0.0062, -0.1333], [-0.0105, -0.136], [-0.0175, -0.1363], [-0.0224, -0.1333]],
  [[-0.007, 0.137], [-0.0045, 0.1345], [-0.007, 0.1315], [-0.0095, 0.1345], [-0.007, 0.137]],
  [[-0.153, -0.0505], [-0.1512, -0.0534], [-0.153, -0.0565], [-0.1548, -0.0534], [-0.153, -0.0505]],
  [[-0.1385, -0.1135], [-0.1365, -0.115], [-0.1385, -0.1175], [-0.1405, -0.115], [-0.1385, -0.1135]]
];

// --- flow arrows: z, y, heading in degrees ---
const arrowMarks = [
  [0.0021, 0.0353, 235], [0.0089, 0.0294, 225], [0.0178, 0.0264, 200], [0.0229, 0.0217, 195], [0.0353, 0.0414, 180], [0.0338, 0.0504, 190], [0.0332, 0.059, 200],
  [-0.1186, 0.0343, 90], [-0.1309, 0.0912, 135], [-0.1211, 0.0993, 0], [-0.1458, 0.0967, 170], [-0.1496, 0.0933, 170], [-0.1432, 0.0658, 150], [-0.1394, 0.0676, 140], [-0.1288, 0.0629, 110], [-0.1173, 0.1096, 0], [-0.1168, 0.0882, 0], [-0.1164, 0.041, 0],
  [-0.1369, -0.0663, 60], [-0.1347, -0.0711, 60], [-0.1373, -0.0921, 50], [-0.1437, -0.0938, 40], [-0.1322, -0.0947, 120],
  [-0.1023, 0.1255, 270], [-0.0436, 0.1282, 300], [-0.0291, 0.1383, 270], [-0.0011, 0.1285, 90], [-0.0891, 0.1259, 90],
  [-0.1057, -0.1247, 270], [-0.0828, -0.1316, 300], [-0.0747, -0.1438, 90], [-0.0394, -0.1262, 270],
  [-0.1441, -0.0329, 15], [-0.1388, -0.0432, 20], [0.0229, -0.0439, 280], [0.0251, -0.0622, 300]
];

const asPoints = pairs => pairs.map(([x, y]) => ({ x, y }));

function shape(pairs, color, tension = 0) {
  return { data: asPoints(pairs), showLine: true, fill: 'shape', backgroundColor: color, borderWidth: 0, pointRadius: 0, tension, clip: false };
}

function stroke(pairs, color, width, tension = 0.4, cap = 'round') {
  return { data: asPoints(pairs), showLine: true, fill: false, borderColor: color, borderWidth: width, borderCapStyle: cap, borderJoinStyle: 'round', pointRadius: 0, tension, clip: false };
}

// overlay shared by both panels, in paint order
function flowDatasets(frameColor, eyeColor) {
  const set = [];
  frameLines.forEach(l => set.push(stroke(l, frameColor, 2, 0, 'butt')));
  thinLines.forEach(l => set.push(stroke(l, 'rgba(0,0,0,0.85)', 2.2)));
  thinLinesRight.forEach(l => set.push(stroke(l.map(([z, y]) => [z + rightShift, y]), 'rgba(0,0,0,0.85)', 2.2)));
  boldLines.forEach(l => set.push(stroke(l, '#000', 4)));
  set.push(stroke(topRightOuter, '#000', 10));
  set.push(stroke(lowerRightOuter, '#000', 10));
  set.push(stroke(lowerLeftOuter, '#000', 8));
  set.push(stroke(lowerRightCore, '#000', 10));
  set.push(stroke(topCentreCore, '#000', 8));
  set.push(shape(lowerLeftBlob, '#000', 0.35));
  set.push(shape(lowerLeftEye, eyeColor, 0.35));
  eyeRings.forEach(l => set.push(stroke(l, 'rgba(0,0,0,0.8)', 2)));
  solidDots.forEach(d => set.push(shape(d, '#000', 0.5)));
  set.push({
    data: arrowMarks.map(([x, y]) => ({ x, y })),
    showLine: false, pointStyle: 'triangle', pointRadius: 5,
    pointRotation: arrowMarks.map(a => a[2]),
    pointBackgroundColor: '#000', pointBorderWidth: 0, clip: false
  });
  return set;
}

function temperatureDatasets() {
  const set = [shape(domainRect, palette[2])];
  coldZones.forEach(z => set.push(shape(z, palette[1])));
  coldestSpots.forEach(z => set.push(shape(z, '#0022ff')));
  blockRects.forEach(z => set.push(shape(z, palette[5])));
  limeZones.forEach(z => set.push(shape(z, palette[7], 0.3)));
  yellowZones.forEach(z => set.push(shape(z, palette[8], 0.3)));
  orangeZones.forEach(z => set.push(shape(z, palette[9], 0.3)));
  redZones.forEach(z => set.push(shape(z, palette[10], 0.3)));
  // trims hide the spline overshoot past the block edges
  blockTrims.forEach(z => set.push(shape(z, palette[2])));
  tealZones.forEach(z => set.push(shape(z, palette[3], 0.3)));
  fins.forEach(z => set.push(shape(z, palette[5])));
  return set.concat(flowDatasets('rgba(0,70,100,0.85)', '#1489ad'));
}

function speedDatasets() {
  const set = [shape(domainRect, palette[0])];
  speedStreaks.forEach(z => set.push(shape(z, '#0a78f0')));
  bandMids.forEach((mid, row) => {
    set.push(stroke([[-0.1155, mid], [0, mid]], palette[5], 10, 0, 'butt'));
    bandTeal.forEach(([a, b]) => set.push(stroke([[a, mid], [b, mid]], palette[3], 10, 0, 'butt')));
    bandCyan.forEach(([a, b]) => set.push(stroke([[a, mid], [b, mid]], palette[2], 9, 0, 'butt')));
    bandBlue.forEach(([a, b]) => set.push(stroke([[a, bandBlueRows[row]], [b, bandBlueRows[row]]], palette[1], 4, 0, 'butt')));
  });
  return set.concat(flowDatasets('#000', '#0a0a9c'));
}

// inward tick marks, placed by the chart's own scales
const inwardTicks = {
  id: 'inwardTicks',
  afterDatasetsDraw(chart) {
    const { ctx, scales: { x, y }, chartArea } = chart;
    const mark = (x1, y1, x2, y2, w, c) => {
      ctx.beginPath();
      ctx.moveTo(x1, y1);
      ctx.lineTo(x2, y2);
      ctx.lineWidth = w;
      ctx.strokeStyle = c;
      ctx.stroke();
    };
    ctx.save();
    zMinor.forEach(v => { const p = x.getPixelForValue(v); mark(p, chartArea.bottom, p, chartArea.bottom - 17, 3, '#777'); });
    yMinor.forEach(v => { const p = y.getPixelForValue(v); mark(chartArea.left, p, chartArea.left + 17, p, 3, '#777'); });
    zMajor.forEach(v => { const p = x.getPixelForValue(v); mark(p, chartArea.bottom, p, chartArea.bottom - 28, 5, '#000'); });
    yMajor.forEach(v => { const p = y.getPixelForValue(v); mark(chartArea.left, p, chartArea.left + 28, p, 5, '#000'); });
    ctx.restore();
  }
};

function buildPlot(id, datasets, zRange, yRange, rightPad, topPad, xHeight, yTitleTop) {
  const tickFont = { family: '"Liberation Sans", sans-serif', size: 40 };
  const titleFont = { family: '"Liberation Sans", sans-serif', size: 50, weight: 'bold' };
  return new Chart(document.getElementById(id), {
    type: 'scatter',
    data: { datasets: datasets.reverse() },
    plugins: [inwardTicks],
    options: {
      responsive: false,
      animation: false,
      layout: { padding: { left: 0, right: rightPad, top: topPad, bottom: 0 } },
      plugins: { legend: { display: false }, tooltip: { enabled: false } },
      scales: {
        x: {
          type: 'linear', min: zRange[0], max: zRange[1],
          grid: { display: false },
          border: { display: true, color: '#000', width: 5 },
          afterBuildTicks: axis => { axis.ticks = zMajor.map(value => ({ value })); },
          afterFit: axis => { axis.height = xHeight; },
          ticks: { autoSkip: false, maxRotation: 0, color: '#000', font: tickFont, padding: 5, callback: v => String(v) },
          title: { display: true, text: 'Z[m]', color: '#000', font: titleFont, padding: { top: 0, bottom: 7 } }
        },
        y: {
          type: 'linear', min: yRange[0], max: yRange[1],
          grid: { display: false },
          border: { display: true, color: '#000', width: 5 },
          afterBuildTicks: axis => { axis.ticks = yMajor.map(value => ({ value })); },
          afterFit: axis => { axis.width = 176; },
          ticks: { autoSkip: false, color: '#000', font: tickFont, padding: 16, callback: v => String(v) },
          title: { display: true, text: 'Y[m]', color: '#000', font: titleFont, padding: { top: yTitleTop, bottom: 0 } }
        }
      }
    }
  });
}

function buildBar(id, levels, ends, xHeight, fontSize, labelGap) {
  const edges = [ends[0], ...levels, ends[1]];
  return new Chart(document.getElementById(id), {
    type: 'bar',
    data: {
      labels: ['levels'],
      datasets: palette.map((color, i) => ({
        data: [[edges[i], edges[i + 1]]],
        backgroundColor: color,
        borderColor: 'rgba(0,0,0,0.35)',
        borderWidth: 1,
        borderSkipped: false,
        grouped: false,
        barPercentage: 1,
        categoryPercentage: 1
      }))
    },
    options: {
      indexAxis: 'y',
      responsive: false,
      animation: false,
      layout: { padding: { left: 50, right: 50, top: 20, bottom: 0 } },
      plugins: { legend: { display: false }, tooltip: { enabled: false } },
      scales: {
        y: { display: false },
        x: {
          type: 'linear', min: ends[0], max: ends[1],
          grid: { display: false },
          border: { display: false },
          afterBuildTicks: axis => { axis.ticks = levels.map(value => ({ value })); },
          afterFit: axis => { axis.height = xHeight; },
          ticks: { autoSkip: false, maxRotation: 0, color: '#000', padding: labelGap, font: { family: '"Liberation Sans", sans-serif', size: fontSize }, callback: v => String(Math.round(v)) }
        }
      }
    }
  });
}

buildBar('barA', tempLevels, tempEnds, 67, 36, 7);
buildBar('barB', speedLevels, speedEnds, 65, 34, 5);
buildPlot('plotA', temperatureDatasets(), [-0.2016, 0.11], [-0.1462, 0.139], 112, 79, 113, 31);
buildPlot('plotB', speedDatasets(), [-0.2087, 0.1037], [-0.1454, 0.1394], 39, 79, 115, 55);
</script>
</body>
</html>
